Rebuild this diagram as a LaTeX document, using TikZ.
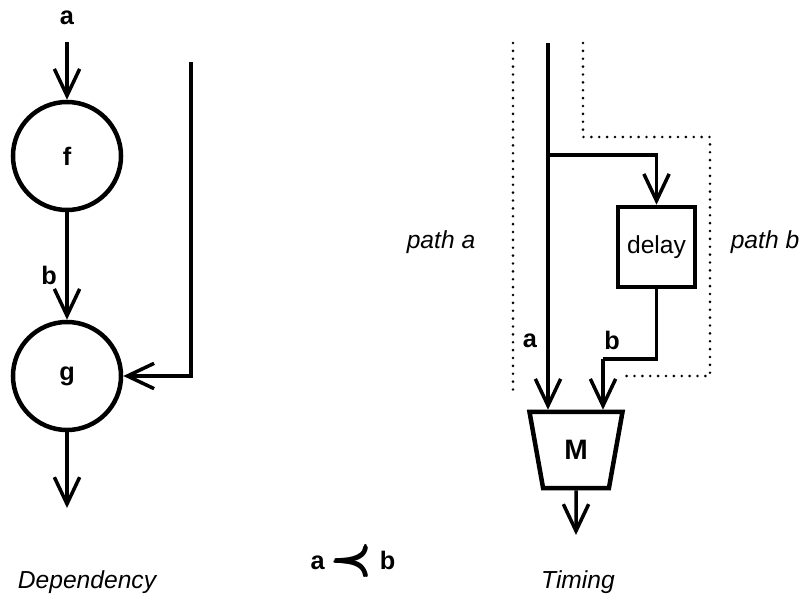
\documentclass[tikz,border=0pt]{standalone}
\usepackage{fontspec}
\setmainfont{Liberation Sans}
\usepackage{amsmath}
\usepackage{tikz}
\usetikzlibrary{positioning,arrows.meta,shapes.geometric,calc}
\tikzset{
  fnode/.style  = {circle, draw, line width=3.2pt, minimum size=2.7cm, inner sep=0pt,
                   font=\fontsize{18}{21}\selectfont\bfseries},
  dbox/.style   = {rectangle, draw, line width=3.2pt, minimum width=1.925cm,
                   minimum height=2cm, inner sep=0pt, font=\fontsize{17.5}{20}\selectfont},
  mux/.style    = {trapezium, draw, line width=3.2pt, shape border rotate=180,
                   trapezium left angle=76, trapezium right angle=76, trapezium stretches=true,
                   minimum width=2.325cm, minimum height=1.9cm, inner sep=0pt,
                   font=\fontsize{20}{22}\selectfont\bfseries},
  wire/.style   = {line width=2.5pt},
  flow/.style   = {wire, -{Straight Barb[length=19pt, width=18pt, line width=2.5pt]}},
  region/.style = {line width=2pt, line cap=round, dash pattern=on 0pt off 5.6pt},
  sig/.style    = {font=\fontsize{18}{21}\selectfont\bfseries},
  captxt/.style = {font=\fontsize{17.5}{20}\selectfont\itshape},
}
\begin{document}
\begin{tikzpicture}[x=0.025cm, y=-0.025cm]
  \useasboundingbox (0,0) rectangle (802,597);

  % dependency graph
  \node[sig] (la) at (67,18) {a};
  \coordinate (ain) at (67,42);
  \node[fnode] (f) at (67,156) {f};
  \node[fnode] (g) at (67,376) {g};
  \node[sig] (lb) at (49,275) {b};
  \coordinate (gout) at (67,508);
  \coordinate (fb) at (191,62);

  \draw[flow] (ain) -- (f);
  \draw[flow] (f) -- (g);
  \draw[flow] (g) -- (gout);
  \draw[flow] (fb) |- (g.east);

  % timing circuit
  \coordinate (atop) at (548,43);
  \coordinate (br) at (548,155);
  \node[dbox] (delay) at (656.5,247) {delay};
  \node[mux] (M) at (576,450) {M};
  \coordinate (bk) at (603,359);
  \coordinate (mout) at (576,535);
  \node[sig] (ra) at (530,341) {a};
  \node[sig] (rb) at (612,340) {b};

  \draw[flow] (atop) -- (atop |- M.north);
  \draw[flow] (br) -| (delay.north);
  \draw[wire] (delay.south) |- (bk);
  \draw[flow] (bk) -- (bk |- M.north);
  \draw[flow] (M.south) -- (mout);

  % path regions
  \draw[region] (513,43) -- (513,390);
  \draw[region] (583,43) -- (583,137) -- (710,137) -- (710,376) -- (620,376);
  \node[captxt] (pa) at (441,242) {path a};
  \node[captxt] (pb) at (765,242) {path b};

  % captions
  \node[captxt] (dep) at (87,582) {Dependency};
  \node[captxt] (tim) at (578,582) {Timing};
  \node[sig] (ord) at (353,561) {a\hspace{5pt}\raisebox{-3pt}{\scalebox{1.9}{\boldmath$\pmb{\prec}$}}\hspace{5pt}b};
\end{tikzpicture}
\end{document}
